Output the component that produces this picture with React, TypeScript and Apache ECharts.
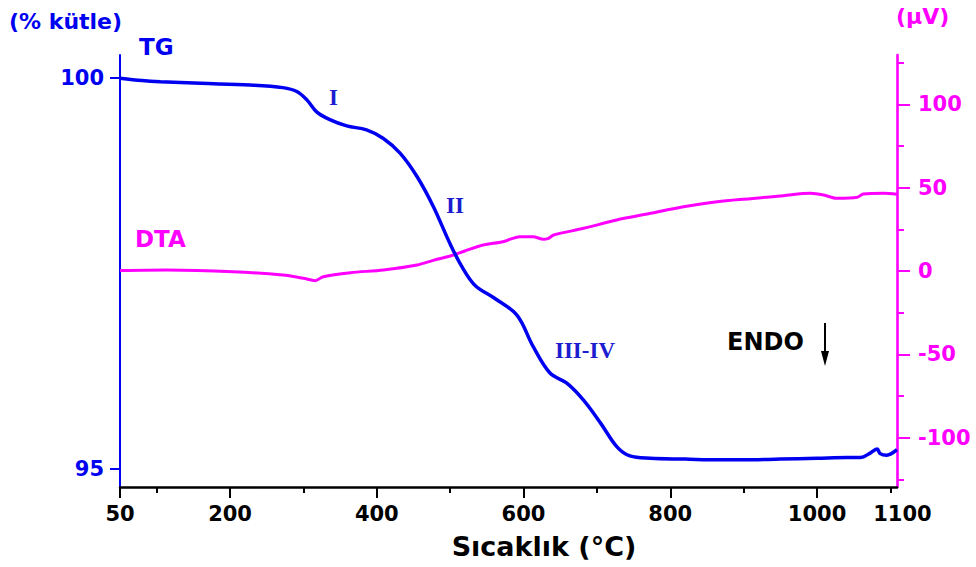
import React, { useEffect, useRef } from "react";
import * as echarts from "echarts";

// Temperature (°C) and mass (%) for the TG curve
const tgTemp = [50, 80, 105, 160, 227, 272, 291, 305, 318, 336, 359, 386, 409, 432, 455, 477, 500, 516, 534, 560, 591, 613, 636, 659, 682, 705, 727, 745, 773, 820, 864, 900, 950, 1000, 1041, 1059, 1073, 1082, 1086, 1095, 1109];
const tgMass = [100.0, 99.97, 99.955, 99.935, 99.913, 99.88, 99.83, 99.72, 99.57, 99.47, 99.39, 99.34, 99.23, 99.04, 98.74, 98.36, 97.88, 97.59, 97.35, 97.19, 96.97, 96.57, 96.23, 96.1, 95.88, 95.59, 95.29, 95.17, 95.14, 95.13, 95.12, 95.12, 95.13, 95.14, 95.15, 95.15, 95.21, 95.26, 95.2, 95.18, 95.25];

// Temperature (°C) and signal (µV) for the DTA curve
const dtaTemp = [50, 114, 204, 272, 300, 316, 327, 364, 409, 455, 477, 500, 520, 545, 572, 595, 613, 627, 634, 641, 682, 727, 773, 818, 864, 909, 954, 991, 1009, 1027, 1055, 1063, 1091, 1109];
const dtaSignal = [0.3, 0.6, -0.4, -2.4, -4.4, -5.8, -3.4, -1.0, 0.6, 3.6, 6.4, 9, 12, 15.6, 17.6, 20.6, 20.6, 19, 19.6, 21.6, 25.6, 30.6, 34.6, 38.6, 41.6, 43.4, 45.2, 46.6, 45.6, 43.6, 44.2, 46.2, 46.6, 46];

// Axis ticks and labels
const xLabelValues = [50, 200, 400, 600, 800, 1000, 1100];
const xMajorTicks = [50, 200, 400, 600, 800, 1000];
const xMinorTicks = [100, 300, 500, 700, 900, 1100];
const massTicks = [95, 100];
const dtaMajorTicks = [-100, -50, 0, 50, 100];
const dtaMinorTicks = [-125, -75, -25, 25, 75, 125];

const X_MIN = 50;
const X_MAX = 1109;
const MASS_MIN = 94.773;
const MASS_MAX = 100.297;
const DTA_MIN = -129.6;
const DTA_MAX = 129.6;

const BLUE = "#0000f0";
const MAGENTA = "#ff00ff";
const ANNO_BLUE = "#1c1cd0";
const FONT = "DejaVu Sans";

export default function App() {
  const ref = useRef<HTMLDivElement>(null);

  useEffect(() => {
    if (!ref.current) return;
    const chart = echarts.init(ref.current, null, { renderer: "svg" });

    const tgData = tgTemp.map((t, i) => [t, tgMass[i]]);
    const dtaData = dtaTemp.map((t, i) => [t, dtaSignal[i]]);

    const labelStyle = { fontFamily: FONT, fontWeight: "bold" as const, fontSize: 21 };

    chart.setOption({
      animation: false,
      backgroundColor: "#ffffff",
      grid: { left: 120, right: 79, top: 55, bottom: 80 },
      xAxis: [
        {
          type: "value",
          min: X_MIN,
          max: X_MAX,
          splitLine: { show: false },
          axisLine: { show: true, onZero: false, lineStyle: { color: "#000", width: 2.5 } },
          axisTick: { show: true, length: 11, customValues: xMajorTicks, lineStyle: { color: "#000", width: 2 } },
          axisLabel: {
            show: true,
            customValues: xLabelValues,
            margin: 16,
            color: "#000",
            ...labelStyle,
            formatter: (v: number) => (v === 1100 ? "{r|1100}" : String(v)),
            rich: { r: { ...labelStyle, color: "#000", padding: [0, 0, 0, 24] } },
          },
        },
        {
          type: "value",
          min: X_MIN,
          max: X_MAX,
          position: "bottom",
          splitLine: { show: false },
          axisLine: { show: false, onZero: false },
          axisTick: { show: true, length: 6, customValues: xMinorTicks, lineStyle: { color: "#000", width: 2 } },
          axisLabel: { show: false },
        },
      ],
      yAxis: [
        {
          type: "value",
          position: "left",
          min: MASS_MIN,
          max: MASS_MAX,
          splitLine: { show: false },
          axisLine: { show: true, onZero: false, lineStyle: { color: BLUE, width: 2 } },
          axisTick: { show: true, length: 10, customValues: massTicks, lineStyle: { color: BLUE, width: 2 } },
          axisLabel: { show: true, customValues: massTicks, margin: 16, color: BLUE, ...labelStyle },
        },
        {
          type: "value",
          position: "right",
          min: DTA_MIN,
          max: DTA_MAX,
          splitLine: { show: false },
          axisLine: { show: true, onZero: false, lineStyle: { color: MAGENTA, width: 2.6 } },
          axisTick: { show: true, length: 13, customValues: dtaMajorTicks, lineStyle: { color: MAGENTA, width: 2 } },
          axisLabel: { show: true, customValues: dtaMajorTicks, margin: 21, color: MAGENTA, ...labelStyle },
        },
        {
          type: "value",
          position: "right",
          min: DTA_MIN,
          max: DTA_MAX,
          splitLine: { show: false },
          axisLine: { show: false, onZero: false },
          axisTick: { show: true, length: 7, customValues: dtaMinorTicks, lineStyle: { color: MAGENTA, width: 2 } },
          axisLabel: { show: false },
        },
      ],
      series: [
        {
          name: "TG",
          type: "line",
          xAxisIndex: 0,
          yAxisIndex: 0,
          data: tgData,
          smooth: 0.35,
          showSymbol: false,
          lineStyle: { color: BLUE, width: 3.5 },
          z: 3,
        },
        {
          name: "DTA",
          type: "line",
          xAxisIndex: 0,
          yAxisIndex: 1,
          data: dtaData,
          smooth: 0.3,
          showSymbol: false,
          lineStyle: { color: MAGENTA, width: 3 },
          z: 2,
        },
      ],
      graphic: [
        {
          type: "text",
          left: 9,
          top: 10,
          style: { text: "(% kütle)", fill: BLUE, font: `bold 22px "${FONT}"` },
        },
        {
          type: "text",
          left: 139,
          top: 35,
          style: { text: "TG", fill: BLUE, font: `bold 23px "${FONT}"` },
        },
        {
          type: "text",
          left: 135,
          top: 227,
          style: { text: "DTA", fill: MAGENTA, font: `bold 23px "${FONT}"` },
        },
        {
          type: "text",
          left: 896,
          top: 5,
          style: { text: "(µV)", fill: MAGENTA, font: `bold 22px "${FONT}"` },
        },
        {
          type: "text",
          x: 544,
          y: 546,
          style: {
            text: "Sıcaklık (°C)",
            fill: "#000",
            font: `bold 27px "${FONT}"`,
            align: "center",
            verticalAlign: "middle",
          },
        },
        {
          type: "text",
          left: 727,
          top: 330,
          style: { text: "ENDO", fill: "#000", font: `bold 24px "${FONT}"` },
        },
        {
          type: "text",
          x: 333.5,
          y: 97,
          style: { text: "I", fill: ANNO_BLUE, font: `bold 23px "Liberation Serif"`, align: "center", verticalAlign: "middle" },
        },
        {
          type: "text",
          x: 455,
          y: 205,
          style: { text: "II", fill: ANNO_BLUE, font: `bold 23px "Liberation Serif"`, align: "center", verticalAlign: "middle" },
        },
        {
          type: "text",
          x: 585,
          y: 350,
          style: { text: "III-IV", fill: ANNO_BLUE, font: `bold 23px "Liberation Serif"`, align: "center", verticalAlign: "middle" },
        },
        {
          type: "line",
          shape: { x1: 825, y1: 323, x2: 825, y2: 354 },
          style: { stroke: "#000", lineWidth: 2 },
        },
        {
          type: "polygon",
          shape: { points: [[821, 351], [829, 351], [825, 366]] },
          style: { fill: "#000" },
        },
      ],
    });

    return () => chart.dispose();
  }, []);

  return (
    <div
      ref={ref}
      style={{ position: "fixed", left: 0, top: 0, width: 976, height: 567, background: "#fff" }}
    />
  );
}
